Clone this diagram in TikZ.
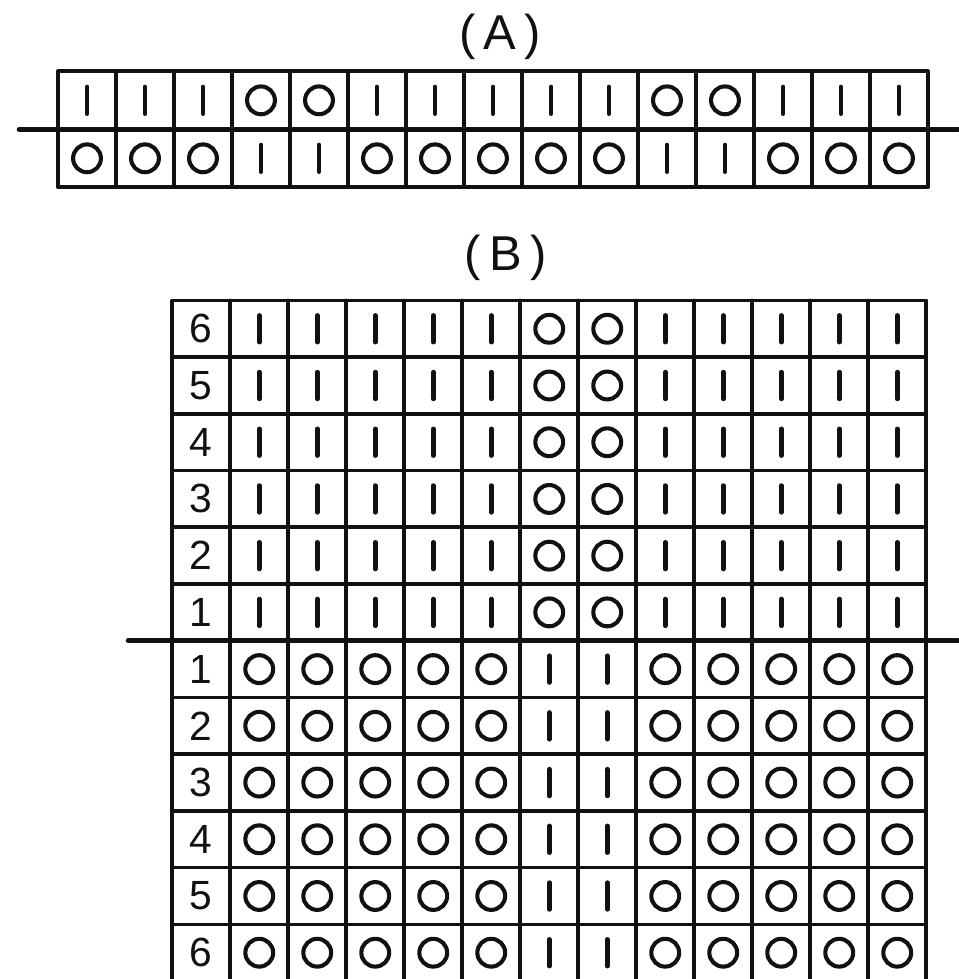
\documentclass[tikz,border=0pt]{standalone}
\usepackage{fontspec}
\setmainfont{Liberation Sans}
\usepackage{tikz}
\usetikzlibrary{backgrounds}
\definecolor{chart_ink}{HTML}{111111}

\begin{document}
\begin{tikzpicture}[
    line cap=round,
    line join=round,
    every node/.style={font=\fontsize{20}{24}\selectfont, text=chart_ink},
    gridline/.style={line width=1.8pt, draw=chart_ink},
    divider/.style={line width=2.4pt, draw=chart_ink},
    title/.style={font=\fontsize{24}{28}\selectfont},
    knit/.pic={\draw[line width=2.3pt, draw=chart_ink] (0,-0.23) -- (0,0.23);},
    purl/.pic={\draw[line width=2pt, draw=chart_ink] (0,0) circle (0.24);}
]

% Global scale: one cell is about 1cm
\begin{scope}[x=1cm,y=1cm]
\useasboundingbox (0,0) rectangle (16.52,16.88);

% ---------------- Chart (A) ----------------
\node[title] (labelA) at (8.62,16.25) {(\,A\,)};

% Outer frame and cell walls
\draw[gridline] (1,13.65) rectangle (16,15.65);
\foreach \x in {2,...,15} {
  \draw[gridline] (\x,13.65) -- (\x,15.65);
}

% Divider line across the middle
\coordinate (dividerA-left)  at (0.33,14.65);
\coordinate (dividerA-right) at (16.52,14.65);
\draw[divider] (dividerA-left) -- (dividerA-right);

% Upper row
\foreach \i in {1,2,3,6,7,8,9,10,13,14,15} {
  \pic at (\i+0.5,15.15) {knit};
}
\foreach \i in {4,5,11,12} {
  \pic at (\i+0.5,15.15) {purl};
}

% Lower row
\foreach \i in {1,2,3,6,7,8,9,10,13,14,15} {
  \pic at (\i+0.5,14.15) {purl};
}
\foreach \i in {4,5,11,12} {
  \pic at (\i+0.5,14.15) {knit};
}

% ---------------- Chart (B) ----------------
\node[title] (labelB) at (8.72,12.43) {(\,B\,)};

% Outer frame, cell walls and row lines
% Columns: x = 2.97 to 15.97, rows of 0.978 from y = 11.70
\draw[gridline] (2.97,-0.04) rectangle (15.97,11.70);
\foreach \x in {3.97,4.97,...,14.97} {
  \draw[gridline] (\x,-0.04) -- (\x,11.70);
}
\foreach \r in {1,...,11} {
  \draw[gridline] (2.97,11.70-\r*0.978) -- (15.97,11.70-\r*0.978);
}

% Divider line between the two halves
\coordinate (dividerB-left)  at (2.21,5.832);
\coordinate (dividerB-right) at (16.52,5.832);
\draw[divider] (dividerB-left) -- (dividerB-right);

% Row numbers, upper half counts down, lower half counts up
\foreach \n [count=\r] in {6,5,4,3,2,1} {
  \node (rowup-\n) at (3.47,11.70-\r*0.978+0.489) {\n};
}
\foreach \n in {1,...,6} {
  \node (rowdown-\n) at (3.47,5.832-\n*0.978+0.489) {\n};
}

% Upper half: bars with two circles in the middle
\foreach \r in {1,...,6} {
  \foreach \j in {1,2,3,4,5,8,9,10,11,12} {
    \pic at (3.47+\j,11.70-\r*0.978+0.489) {knit};
  }
  \foreach \j in {6,7} {
    \pic at (3.47+\j,11.70-\r*0.978+0.489) {purl};
  }
}

% Lower half: circles with two bars in the middle
\foreach \r in {1,...,6} {
  \foreach \j in {1,2,3,4,5,8,9,10,11,12} {
    \pic at (3.47+\j,5.832-\r*0.978+0.489) {purl};
  }
  \foreach \j in {6,7} {
    \pic at (3.47+\j,5.832-\r*0.978+0.489) {knit};
  }
}

\end{scope}
\end{tikzpicture}
\end{document}
